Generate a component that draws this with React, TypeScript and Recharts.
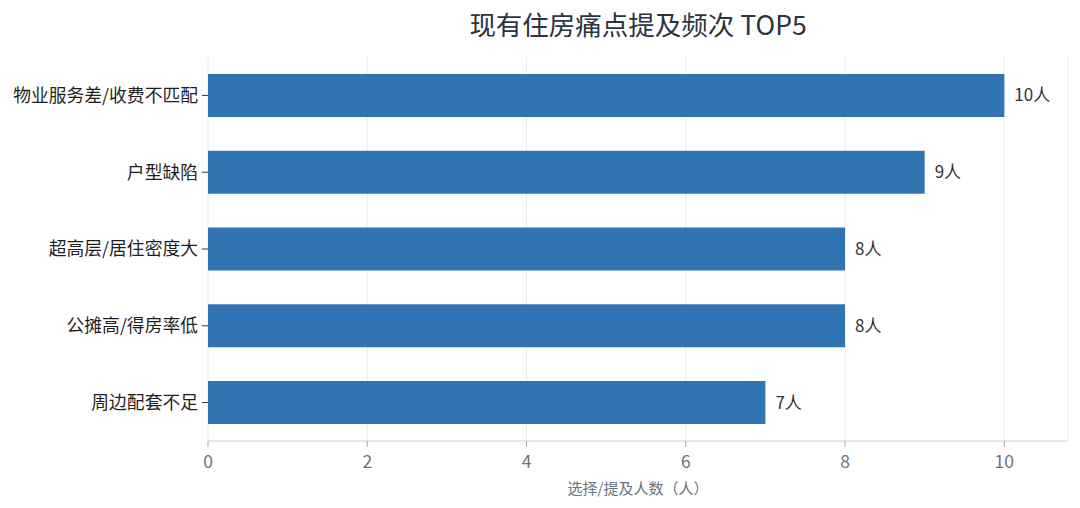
import React from 'react'
import { BarChart, Bar, XAxis, YAxis, CartesianGrid, LabelList, Label } from 'recharts'

const categories = ['物业服务差/收费不匹配', '户型缺陷', '超高层/居住密度大', '公摊高/得房率低', '周边配套不足']
const counts = [10, 9, 8, 8, 7]
const xTicks = [0, 2, 4, 6, 8, 10]

const data = categories.map((name, i) => ({ name, value: counts[i] }))

const FONT = '"Noto Sans CJK SC", "Noto Sans", sans-serif'

export default function App() {
  return (
    <div style={{ position: 'absolute', left: 0, top: 0, width: 1080, height: 508, background: '#fff', fontFamily: FONT }}>
      <div
        style={{
          position: 'absolute',
          left: 208,
          width: 860,
          top: 5,
          textAlign: 'center',
          fontSize: 26.5,
          color: '#2a3442',
          lineHeight: '38px',
        }}
      >
        现有住房痛点提及频次 TOP5
      </div>
      <BarChart
        width={1080}
        height={508}
        data={data}
        layout="vertical"
        margin={{ top: 57, right: 12, bottom: 0, left: 0 }}
        barCategoryGap="22%"
      >
        <CartesianGrid horizontal={false} stroke="#ececec" strokeWidth={1} />
        <XAxis
          type="number"
          domain={[0, 10.8]}
          ticks={xTicks}
          height={67}
          tick={{ fill: '#6b7280', fontSize: 17.5, fontFamily: FONT }}
          tickLine={{ stroke: '#aaa' }}
          axisLine={{ stroke: '#d0d0d0' }}
          tickSize={6}
          tickMargin={9}
        >
          <Label
            value="选择/提及人数（人）"
            position="insideBottom"
            offset={14}
            style={{ fill: '#6b7280', fontSize: 15, fontFamily: FONT }}
          />
        </XAxis>
        <YAxis
          type="category"
          dataKey="name"
          width={208}
          axisLine={false}
          tickLine={{ stroke: '#333' }}
          tickSize={6}
          tickMargin={4}
          tick={{ fill: '#1f1f1f', fontSize: 17.8, fontFamily: FONT }}
        />
        <Bar dataKey="value" fill="#1f68ab" fillOpacity={0.92} isAnimationActive={false}>
          <LabelList
            dataKey="value"
            position="right"
            offset={10}
            formatter={(v: any) => `${v}人`}
            style={{ fill: '#333', fontSize: 17, fontFamily: FONT }}
          />
        </Bar>
      </BarChart>
    </div>
  )
}
